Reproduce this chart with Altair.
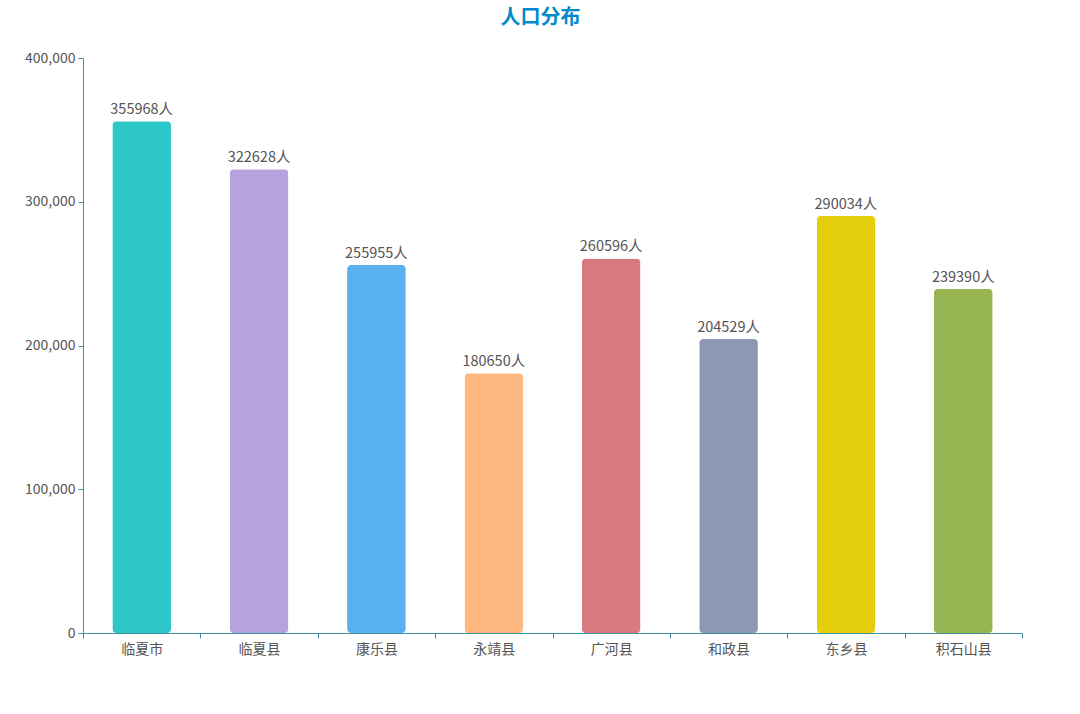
import altair as alt
import pandas as pd

categories = ["临夏市", "临夏县", "康乐县", "永靖县", "广河县", "和政县", "东乡县", "积石山县"]
population = [355968, 322628, 255955, 180650, 260596, 204529, 290034, 239390]
colors = ["#2ec7c9", "#b6a2de", "#5ab1ef", "#ffb980", "#d87a80", "#8d98b3", "#e5cf0d", "#97b552"]

df = pd.DataFrame({"region": categories, "pop": population})
df["label"] = df["pop"].astype(str) + "人"

FONT = "Noto Sans CJK SC"
AXIS = "#3f8f9e"

x = alt.X("region:N", sort=categories, title=None,
          scale=alt.Scale(paddingInner=0, paddingOuter=0),
          axis=alt.Axis(labelAngle=0, domainColor=AXIS, tickColor=AXIS, tickSize=5,
                        tickBand="extent", labelColor="#555", labelFontSize=14,
                        labelFont=FONT, labelPadding=4))
y = alt.Y("pop:Q", title=None, scale=alt.Scale(domain=[0, 400000]),
          axis=alt.Axis(values=[0, 100000, 200000, 300000, 400000], format=",.0f",
                        grid=False, domainColor=AXIS, tickColor=AXIS, tickSize=5,
                        labelColor="#555", labelFontSize=14, labelFont=FONT, labelPadding=3))

bars = alt.Chart(df).mark_bar(cornerRadius=4, width=alt.RelativeBandSize(0.5)).encode(
    x=x, y=y,
    color=alt.Color("region:N", sort=categories,
                    scale=alt.Scale(domain=categories, range=colors), legend=None),
)
text = alt.Chart(df).mark_text(baseline="bottom", dy=-4, fontSize=14.5, font=FONT, color="#555").encode(
    x=alt.X("region:N", sort=categories), y="pop:Q", text="label:N"
)

chart = (bars + text).properties(
    width=939, height=575,
    title=alt.TitleParams("人口分布", fontSize=20, font=FONT, fontWeight="bold",
                          color="#008acd", anchor="middle", dx=-12, offset=23),
    autosize=alt.AutoSizeParams(type="none"),
    padding={"left": 83, "top": 58, "right": 58, "bottom": 81},
).configure_view(stroke=None)

chart.save("out.html", embed_options={"renderer": "svg", "actions": False})
